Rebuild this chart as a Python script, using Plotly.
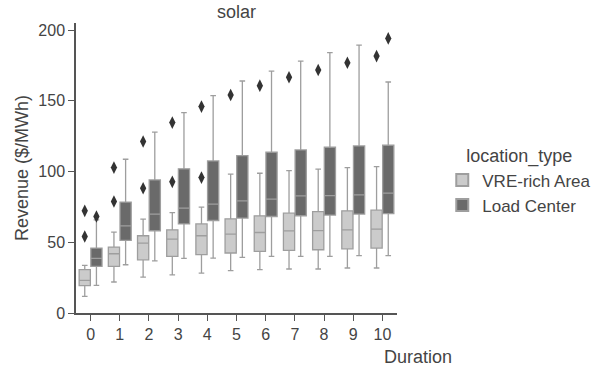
import plotly.graph_objects as go

durations = [0, 1, 2, 3, 4, 5, 6, 7, 8, 9, 10]

# VRE-rich Area
vre_lower = [11.7, 21.9, 25.4, 27.0, 28.2, 29.9, 30.6, 31.1, 31.1, 31.8, 31.8]
vre_q1 = [19.3, 32.9, 37.6, 40.0, 41.2, 42.4, 43.5, 44.2, 44.7, 45.4, 45.9]
vre_median = [23.0, 41.9, 49.4, 52.2, 54.6, 55.8, 56.9, 58.1, 58.3, 58.8, 59.3]
vre_q3 = [30.6, 46.6, 54.6, 58.8, 63.0, 66.6, 68.7, 70.6, 71.7, 72.2, 72.7]
vre_upper = [33.6, 57.2, 66.4, 71.0, 74.8, 98.1, 98.8, 100.7, 101.7, 102.8, 103.5]
vre_out_x = [0, 0, 1, 1, 2, 2, 3, 3, 4, 4, 5, 6, 7, 8, 9, 10]
vre_out_y = [72.2, 54.1, 102.8, 78.8, 121.2, 88.2, 134.6, 92.7, 145.9, 95.7,
             154.1, 160.7, 166.6, 171.8, 176.9, 181.6]

# Load Center
lc_lower = [19.5, 34.1, 36.9, 38.6, 38.8, 39.3, 40.0, 40.0, 40.0, 40.5, 40.5]
lc_q1 = [32.9, 51.3, 58.1, 63.0, 65.4, 67.1, 68.2, 68.7, 69.2, 69.9, 70.3]
lc_median = [38.6, 61.6, 69.9, 74.1, 76.9, 79.3, 80.5, 82.8, 83.0, 83.5, 84.7]
lc_q3 = [45.9, 78.4, 94.1, 101.9, 107.5, 111.3, 113.7, 115.3, 117.2, 118.1, 118.6]
lc_upper = [65.9, 108.7, 127.8, 141.6, 153.6, 164.0, 171.0, 178.1, 184.0, 189.4, 163.3]
lc_out_x = [0, 10]
lc_out_y = [68.2, 194.1]

series_names = ["VRE-rich Area", "Load Center"]
fills = ["#cbcbcb", "#6a6a6a"]
line_col = "#9e9e9e"
FONT = "Liberation Sans, Arial, sans-serif"
TXT = "#444444"

fig = go.Figure()
fig.add_trace(go.Box(
    name=series_names[0], x=durations, q1=vre_q1, median=vre_median, q3=vre_q3,
    lowerfence=vre_lower, upperfence=vre_upper, fillcolor=fills[0],
    line=dict(color=line_col, width=1.3), whiskerwidth=0.5, boxpoints=False,
    offsetgroup="a",
))
fig.add_trace(go.Box(
    name=series_names[1], x=durations, q1=lc_q1, median=lc_median, q3=lc_q3,
    lowerfence=lc_lower, upperfence=lc_upper, fillcolor=fills[1],
    line=dict(color=line_col, width=1.3), whiskerwidth=0.5, boxpoints=False,
    offsetgroup="b",
))

half = 0.2
fig.add_trace(go.Scatter(
    x=[v - half for v in vre_out_x], y=vre_out_y, mode="markers",
    marker=dict(symbol="diamond-tall", size=9, color="#333333"), showlegend=False,
    hoverinfo="skip",
))
fig.add_trace(go.Scatter(
    x=[v + half for v in lc_out_x], y=lc_out_y, mode="markers",
    marker=dict(symbol="diamond-tall", size=9, color="#333333"), showlegend=False,
    hoverinfo="skip",
))

axis_common = dict(
    showgrid=False, zeroline=False, showline=True, linecolor="#555555",
    linewidth=1.5, ticks="outside", ticklen=6, tickwidth=1.3, tickcolor="#555555",
    tickfont=dict(family=FONT, size=16, color=TXT),
)

fig.update_layout(
    width=600, height=372,
    margin=dict(l=76, r=203, t=23, b=59, autoexpand=False),
    paper_bgcolor="white", plot_bgcolor="white",
    boxmode="group", boxgap=0.2, boxgroupgap=0.04,
    font=dict(family=FONT, color=TXT),
    title=dict(text="solar", x=236.5 / 600, xanchor="center", y=1 - 12 / 372,
               yanchor="middle", font=dict(family=FONT, size=18, color=TXT)),
    xaxis=dict(range=[-0.5, 10.5], tickmode="array", tickvals=durations,
               ticktext=[str(d) for d in durations], **axis_common),
    yaxis=dict(range=[0, 205], tickvals=[0, 50, 100, 150, 200],
               title=dict(text="Revenue ($/MWh)", standoff=5,
                          font=dict(family=FONT, size=18, color=TXT)),
               **axis_common),
    legend=dict(
        title=dict(text="location_type", font=dict(family=FONT, size=18, color=TXT),
                   side="top center"),
        font=dict(family=FONT, size=17, color=TXT),
        x=1.141, xanchor="left", y=0.60, yanchor="top",
        bgcolor="rgba(0,0,0,0)", itemsizing="constant", tracegroupgap=0,
    ),
    annotations=[dict(
        text="Duration", x=1.065, y=-0.152, xref="paper", yref="paper",
        xanchor="center", yanchor="middle", showarrow=False,
        font=dict(family=FONT, size=18, color=TXT),
    )],
)

fig.write_html("out.html", config={"displayModeBar": False},
               post_script="document.body.style.margin='0';")
